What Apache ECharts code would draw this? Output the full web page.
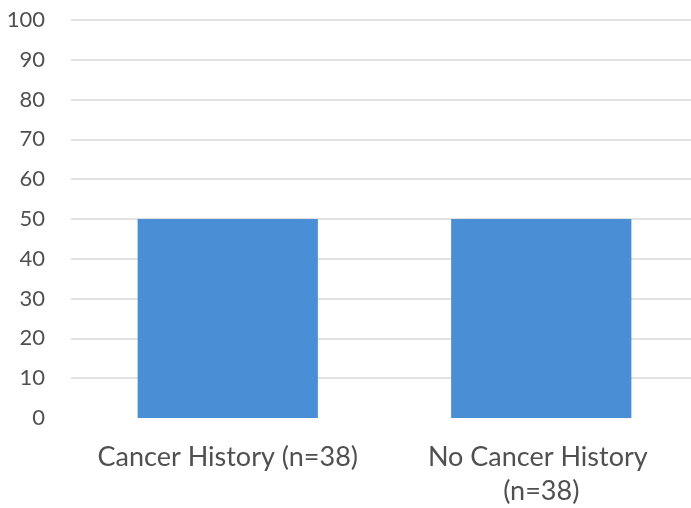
<!DOCTYPE html>
<html>
<head>
<meta charset="utf-8">
<script src="https://cdn.jsdelivr.net/npm/echarts@6/dist/echarts.min.js"></script>
<style>
  html, body { margin: 0; padding: 0; background: #fff; overflow: hidden; }
  #chart { width: 698px; height: 508px; }
</style>
</head>
<body>
<div id="chart"></div>
<script>
// Share of patients in each group
const categories = ['Cancer History (n=38)', 'No Cancer History (n=38)'];
const values = [50, 50];
const yTicks = { min: 0, max: 100, step: 10 };

const chart = echarts.init(document.getElementById('chart'), null, { renderer: 'canvas' });
chart.setOption({
  animation: false,
  grid: { left: 71, right: 0, top: 20, bottom: 88, containLabel: false },
  xAxis: {
    type: 'category',
    data: categories,
    axisLine: { show: false },
    axisTick: { show: false },
    axisLabel: {
      interval: 0,
      margin: 22,
      fontFamily: 'Lato',
      fontSize: 27,
      color: '#505050',
      width: 285,
      overflow: 'break',
      lineHeight: 34
    }
  },
  yAxis: {
    type: 'value',
    min: yTicks.min,
    max: yTicks.max,
    interval: yTicks.step,
    axisLine: { show: false },
    axisTick: { show: false },
    axisLabel: {
      margin: 26,
      fontFamily: 'Lato',
      fontSize: 22,
      color: '#505050'
    },
    splitLine: { showMinLine: false, lineStyle: { color: '#d9d9d9', width: 1.5 } }
  },
  series: [{
    type: 'bar',
    data: values,
    barWidth: '57.5%',
    itemStyle: { color: '#4a8fd6' }
  }]
});
</script>
</body>
</html>
